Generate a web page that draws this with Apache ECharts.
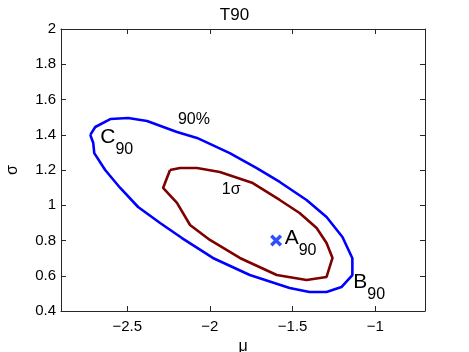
<!DOCTYPE html>
<html>
<head>
<meta charset="utf-8">
<script src="https://cdn.jsdelivr.net/npm/echarts@6/dist/echarts.min.js"></script>
<style>
  html, body { margin: 0; padding: 0; background: #fff; }
  #chart { width: 469px; height: 352px; }
</style>
</head>
<body>
<div id="chart"></div>
<script>
// 90% contour (blue)
const blueMu = [-2.723, -2.693, -2.602, -2.494, -2.380, -2.199, -2.078, -1.880, -1.717, -1.578, -1.416, -1.295, -1.199, -1.139, -1.139, -1.205, -1.295, -1.398, -1.518, -1.759, -1.982, -2.169, -2.301, -2.434, -2.542, -2.633, -2.699, -2.705];
const blueSigma = [1.399, 1.444, 1.489, 1.495, 1.478, 1.416, 1.382, 1.296, 1.211, 1.132, 1.030, 0.933, 0.820, 0.699, 0.604, 0.536, 0.508, 0.508, 0.530, 0.604, 0.701, 0.814, 0.899, 0.990, 1.098, 1.200, 1.296, 1.353];
// 1 sigma contour (dark red)
const redMu = [-2.241, -2.181, -2.078, -1.940, -1.741, -1.578, -1.458, -1.355, -1.295, -1.259, -1.295, -1.416, -1.596, -1.819, -2.000, -2.120, -2.199, -2.283];
const redSigma = [1.200, 1.211, 1.211, 1.189, 1.126, 1.030, 0.956, 0.871, 0.786, 0.701, 0.593, 0.576, 0.604, 0.701, 0.803, 0.888, 1.013, 1.098];
// best fit point A
const pointA = [-1.6, 0.8];

const xTicks = [-2.5, -2, -1.5, -1];
const yTicks = [0.4, 0.6, 0.8, 1, 1.2, 1.4, 1.6, 1.8, 2];

// annotations
const annoMain = ['C', 'B', 'A', '90%', '1σ'];
const annoSub = ['90', '90', '90', '', ''];
const annoMu = [-2.663, -1.133, -1.548, -2.193, -1.928];
const annoSigma = [1.384, 0.562, 0.811, 1.484, 1.087];

const closed = (xs, ys) => xs.concat(xs[0]).map((x, i) => [x, ys.concat(ys[0])[i]]);
const fmtNum = v => (v < 0 ? '\u2212' + (+Math.abs(v).toFixed(1)) : String(+v.toFixed(1)));

const FONT = 'Liberation Sans, Arial, sans-serif';
const axisCol = '#262626';

let myChart = echarts.init(document.getElementById('chart'));

const baseX = {
    type: 'value', min: -2.9, max: -0.7,
    axisLine: { show: true, onZero: false, lineStyle: { color: axisCol, width: 1 } },
    axisTick: { show: true, inside: true, length: 5, customValues: xTicks, lineStyle: { color: axisCol } },
    splitLine: { show: false }
};
const baseY = {
    type: 'value', min: 0.4, max: 2,
    axisLine: { show: true, onZero: false, lineStyle: { color: axisCol, width: 1 } },
    axisTick: { show: true, inside: true, length: 5, customValues: yTicks, lineStyle: { color: axisCol } },
    splitLine: { show: false }
};

let option = {
    animation: false,
    title: {
        text: 'T90', left: 'center', top: 2,
        textStyle: { fontFamily: FONT, fontSize: 17, fontWeight: 'normal', color: '#000' }
    },
    grid: { left: 61, right: 44, top: 29, bottom: 41, outerBoundsMode: 'none' },
    xAxis: [
        Object.assign({}, baseX, {
            position: 'bottom',
            name: 'μ', nameLocation: 'middle', nameGap: 27,
            nameTextStyle: { fontFamily: FONT, fontSize: 16, color: '#000' },
            axisLabel: { customValues: xTicks, formatter: fmtNum, fontFamily: FONT, fontSize: 15, color: '#000', margin: 8 }
        }),
        Object.assign({}, baseX, { position: 'top', axisLabel: { show: false } })
    ],
    yAxis: [
        Object.assign({}, baseY, {
            position: 'left',
            name: 'σ', nameLocation: 'middle', nameGap: 40,
            nameTextStyle: { fontFamily: FONT, fontSize: 16, color: '#000' },
            axisLabel: { customValues: yTicks, formatter: fmtNum, fontFamily: FONT, fontSize: 15, color: '#000', margin: 5 }
        }),
        Object.assign({}, baseY, { position: 'right', axisLabel: { show: false } })
    ],
    series: [
        {
            name: '90%', type: 'line', data: closed(blueMu, blueSigma),
            symbol: 'none', smooth: false, lineStyle: { color: '#0000ff', width: 2.6 }, z: 3
        },
        {
            name: '1σ', type: 'line', data: closed(redMu, redSigma),
            symbol: 'none', smooth: false, lineStyle: { color: '#7f0000', width: 2.6 }, z: 3
        },
        {
            name: 'A', type: 'scatter', data: [pointA],
            symbol: 'path://M0,2L2,0L5,3L8,0L10,2L7,5L10,8L8,10L5,7L2,10L0,8L3,5Z',
            symbolSize: 12, itemStyle: { color: '#2f4fff', opacity: 1 }, z: 4
        },
        {
            name: 'labels', type: 'scatter', symbolSize: 0, z: 5, silent: true,
            itemStyle: { opacity: 1 },
            data: annoMain.map((t, i) => ({ name: t, value: [annoMu[i], annoSigma[i]], sub: annoSub[i] })),
            label: {
                show: true, position: 'right', distance: 0, opacity: 1, color: '#000',
                formatter: p => {
                    const d = p.data;
                    if (d.sub) return '{m|' + d.name + '}{s|' + d.sub + '}';
                    return '{t|' + d.name + '}';
                },
                rich: {
                    m: { fontFamily: FONT, fontSize: 21, color: '#000', lineHeight: 22 },
                    s: { fontFamily: FONT, fontSize: 16, color: '#000', padding: [24, 0, 0, 0] },
                    t: { fontFamily: FONT, fontSize: 16, color: '#000' }
                }
            }
        }
    ]
};

myChart.setOption(option);
</script>
</body>
</html>
